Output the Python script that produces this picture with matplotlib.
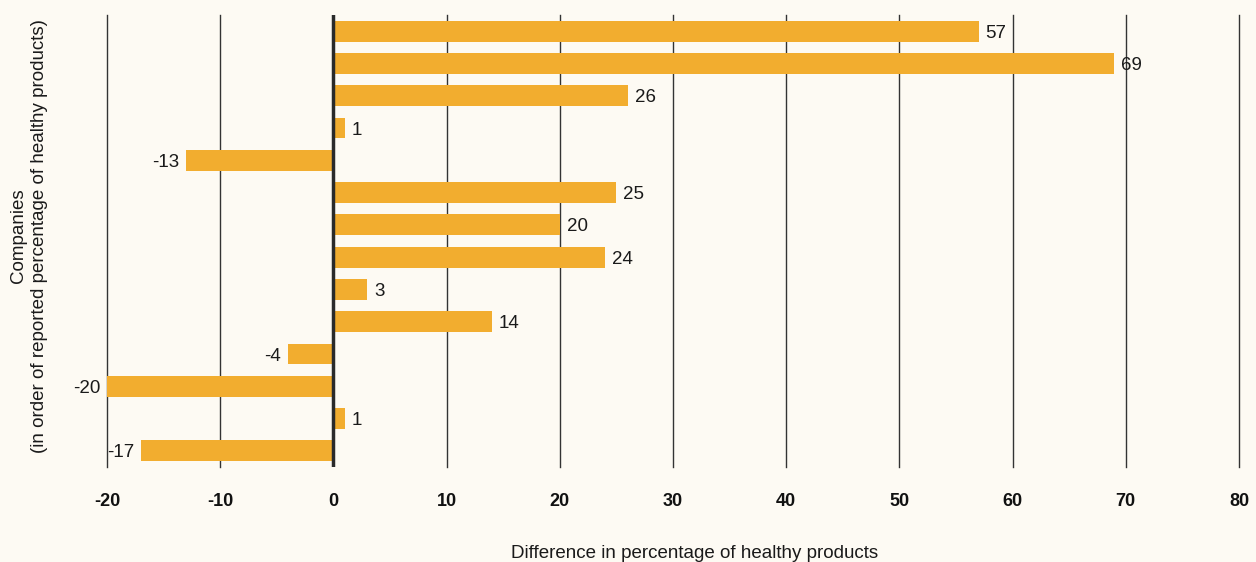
import matplotlib
matplotlib.use("Agg")
import matplotlib.pyplot as plt
import numpy as np

# difference in percentage of healthy products, one bar per company (top to bottom)
companies = ["C1", "C2", "C3", "C4", "C5", "C6", "C7", "C8", "C9", "C10", "C11", "C12", "C13", "C14"]
diffs = [57, 69, 26, 1, -13, 25, 20, 24, 3, 14, -4, -20, 1, -17]
xticks = [-20, -10, 0, 10, 20, 30, 40, 50, 60, 70, 80]

bg = "#FDFAF3"
bar_col = "#F2AD2F"

plt.rcParams['font.family'] = ['Liberation Sans', 'DejaVu Sans']

fig = plt.figure(figsize=(12.56, 5.62), dpi=100, facecolor=bg)
ax = fig.add_axes([107/1256, 1-467/562, (1239-107)/1256, (467-15)/562])
ax.set_facecolor(bg)

ypos = np.arange(len(companies))
ax.barh(ypos, diffs, height=0.65, color=bar_col, zorder=3)

# vertical gridlines + heavier zero line
for t in xticks:
    if t == 0:
        continue
    ax.axvline(t, color="#333333", lw=1, zorder=1, clip_on=False)
ax.axvline(0, color="#2a2a2a", lw=2.5, zorder=4)

for y, v in zip(ypos, diffs):
    if v >= 0:
        ax.annotate(str(v), (v, y), xytext=(5, 0), textcoords="offset points",
                    ha="left", va="center_baseline", fontsize=13.5, color="#1a1a1a", zorder=5)
    else:
        ax.annotate(str(v), (v, y), xytext=(-5, 0), textcoords="offset points",
                    ha="right", va="center_baseline", fontsize=13.5, color="#1a1a1a", zorder=5)

ax.set_xlim(-20, 80)
ax.set_ylim(len(companies) - 0.5, -0.5)
ax.set_xticks(xticks)
ax.set_xticklabels([str(t) for t in xticks], fontsize=13, fontweight="bold", color="#111111")
ax.set_yticks([])
ax.tick_params(axis="x", length=0, pad=19)
for s in ax.spines.values():
    s.set_visible(False)

fig.text(695/1256, 1-553/562, "Difference in percentage of healthy products",
         ha="center", va="center", fontsize=13.5, color="#1a1a1a")
fig.text(29/1256, 1-236/562, "Companies\n(in order of reported percentage of healthy products)",
         ha="center", va="center", rotation=90, fontsize=13.5, color="#1a1a1a",
         multialignment="center", linespacing=1.3)

fig.savefig("out.png", dpi=100, facecolor=bg)
